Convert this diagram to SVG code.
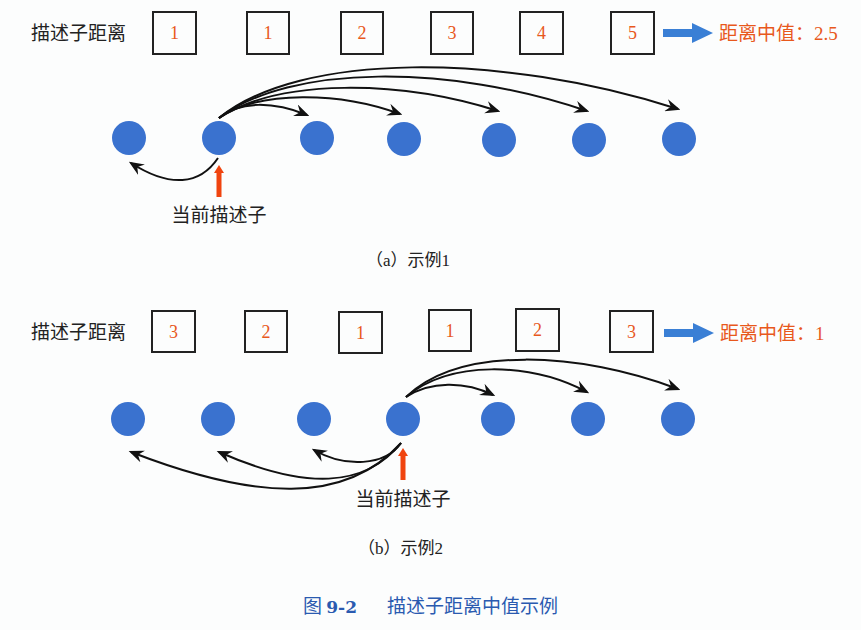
<svg xmlns="http://www.w3.org/2000/svg" width="861" height="630" viewBox="0 0 861 630">
<style>
.lbl{font-family:"Noto Sans CJK SC","Noto Sans",sans-serif;font-size:19px;fill:#222;}
.box{fill:none;stroke:#222;stroke-width:2;}
.num{font-family:"Liberation Serif",serif;font-size:18px;fill:#e8581c;text-anchor:middle;}
.med{font-family:"Noto Sans CJK SC",sans-serif;font-size:19px;fill:#e8581c;}
.dot{fill:#3a72cf;}
.con{fill:none;stroke:#111;stroke-width:2;}
.cap{font-family:"Liberation Serif","Noto Sans CJK SC",serif;font-size:17px;fill:#222;}
.fig{font-family:"Noto Sans CJK SC",sans-serif;font-size:19px;fill:#2a5ab0;}
</style>
<defs>
<marker id="ah" viewBox="0 0 12 10" refX="10" refY="5" markerWidth="7.5" markerHeight="6.5" markerUnits="strokeWidth" orient="auto">
<path d="M0,0 L12,5 L0,10 L4,5 z" fill="#111"/>
</marker>
<g id="bluearrow"><path d="M0,-4 H29 V-10 L50,0 L29,10 V4 H0 z" fill="#3a7fd5"/></g>
<g id="redarrow"><path d="M-2.5,32 V8 H-5 L0,0 L5,8 H2.5 V32 z" fill="#f0440f"/></g>
</defs>
<rect width="861" height="630" fill="#fcfdfd"/>

<!-- Panel a -->
<g id="a-label"><text class="lbl" x="31" y="40">描述子距离</text></g>
<g id="a-box1"><rect class="box" x="153" y="12" width="43" height="42"/><text class="num" x="174.5" y="39">1</text></g>
<g id="a-box2"><rect class="box" x="247" y="12" width="42" height="42"/><text class="num" x="268" y="39">1</text></g>
<g id="a-box3"><rect class="box" x="341" y="12" width="42" height="42"/><text class="num" x="362" y="39">2</text></g>
<g id="a-box4"><rect class="box" x="431" y="12" width="42" height="42"/><text class="num" x="452" y="39">3</text></g>
<g id="a-box5"><rect class="box" x="520" y="12" width="43" height="42"/><text class="num" x="541.5" y="39">4</text></g>
<g id="a-box6"><rect class="box" x="611" y="12" width="43" height="42"/><text class="num" x="632.5" y="39">5</text></g>
<g id="a-median"><use href="#bluearrow" x="663" y="33"/><text class="med" x="719" y="40">距离中值：<tspan font-family="Liberation Serif">2.5</tspan></text></g>
<g id="a-c1"><circle class="dot" cx="129" cy="138" r="17"/></g>
<g id="a-c2"><circle class="dot" cx="219" cy="138" r="17"/></g>
<g id="a-c3"><circle class="dot" cx="317" cy="138" r="17"/></g>
<g id="a-c4"><circle class="dot" cx="404" cy="139" r="17"/></g>
<g id="a-c5"><circle class="dot" cx="499" cy="140" r="17"/></g>
<g id="a-c6"><circle class="dot" cx="589" cy="140" r="17"/></g>
<g id="a-c7"><circle class="dot" cx="679" cy="139" r="17"/></g>
<g id="a-current"><use href="#redarrow" x="219" y="165"/><text class="lbl" x="219" y="222" text-anchor="middle">当前描述子</text></g>
<g id="a-connectors">
<path class="con" marker-end="url(#ah)" d="M219,118 C240,100 275,102 307,115"/>
<path class="con" marker-end="url(#ah)" d="M219,118 C260,90 340,92 400,114"/>
<path class="con" marker-end="url(#ah)" d="M219,118 C280,78 400,80 498,111"/>
<path class="con" marker-end="url(#ah)" d="M219,118 C290,64 450,64 587,111"/>
<path class="con" marker-end="url(#ah)" d="M219,118 C300,52 500,52 678,109"/>
<path class="con" marker-end="url(#ah)" d="M218,158 C200,185 170,188 131,163"/>
</g>
<g id="a-caption"><text class="cap" x="366" y="266">（a）示例1</text></g>

<!-- Panel b -->
<g id="b-label"><text class="lbl" x="31" y="339">描述子距离</text></g>
<g id="b-box1"><rect class="box" x="152" y="311" width="43" height="41"/><text class="num" x="173.5" y="338">3</text></g>
<g id="b-box2"><rect class="box" x="245" y="311" width="42" height="41"/><text class="num" x="266" y="338">2</text></g>
<g id="b-box3"><rect class="box" x="339" y="312" width="43" height="41"/><text class="num" x="360.5" y="339">1</text></g>
<g id="b-box4"><rect class="box" x="429" y="310" width="42" height="41"/><text class="num" x="450" y="337">1</text></g>
<g id="b-box5"><rect class="box" x="516" y="309" width="43" height="42"/><text class="num" x="537.5" y="336">2</text></g>
<g id="b-box6"><rect class="box" x="610" y="311" width="43" height="41"/><text class="num" x="631.5" y="338">3</text></g>
<g id="b-median"><use href="#bluearrow" x="664" y="333"/><text class="med" x="720" y="340">距离中值：<tspan font-family="Liberation Serif">1</tspan></text></g>
<g id="b-c1"><circle class="dot" cx="128" cy="419" r="17"/></g>
<g id="b-c2"><circle class="dot" cx="218" cy="419" r="17"/></g>
<g id="b-c3"><circle class="dot" cx="314" cy="419" r="17"/></g>
<g id="b-c4"><circle class="dot" cx="403" cy="419" r="17"/></g>
<g id="b-c5"><circle class="dot" cx="498" cy="419" r="17"/></g>
<g id="b-c6"><circle class="dot" cx="588" cy="419" r="17"/></g>
<g id="b-c7"><circle class="dot" cx="678" cy="419" r="17"/></g>
<g id="b-current"><use href="#redarrow" x="403" y="448"/><text class="lbl" x="403" y="506" text-anchor="middle">当前描述子</text></g>
<g id="b-connectors">
<path class="con" marker-end="url(#ah)" d="M406,397 C430,381 465,381 493,395"/>
<path class="con" marker-end="url(#ah)" d="M406,397 C450,360 530,362 587,392"/>
<path class="con" marker-end="url(#ah)" d="M406,397 C460,345 580,352 678,389"/>
<path class="con" marker-end="url(#ah)" d="M401,443 C385,466 345,468 314,450"/>
<path class="con" marker-end="url(#ah)" d="M401,443 C365,488 305,490 219,452"/>
<path class="con" marker-end="url(#ah)" d="M401,443 C345,505 255,500 131,452"/>
</g>
<g id="b-caption"><text class="cap" x="358" y="554">（b）示例2</text></g>

<g id="figure-caption"><text class="fig" x="303" y="613">图 <tspan font-family="DejaVu Serif" font-weight="bold" font-size="17">9-2</tspan><tspan x="387">描述子距离中值示例</tspan></text></g>
</svg>
